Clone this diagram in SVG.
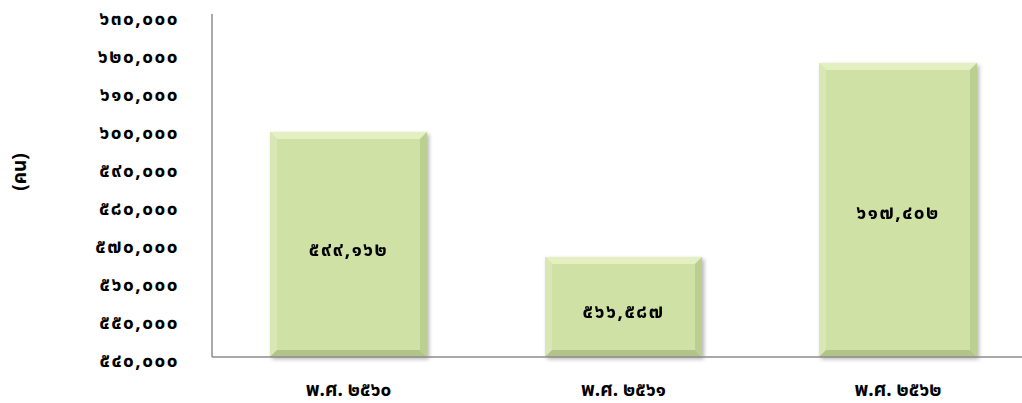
<svg xmlns="http://www.w3.org/2000/svg" width="1022" height="403" viewBox="0 0 1022 403">
<style>
.t{font-family:"Noto Sans Thai","Noto Sans","DejaVu Sans",sans-serif;font-weight:bold;font-size:19px;letter-spacing:1.5px;fill:#000}
.c{letter-spacing:0}
.ax{stroke:#8c8c8c;stroke-width:1.5;fill:none}
.face{fill:#d0e1a5}
.bt{fill:#e4efc2}
.bl{fill:#d8e7b3}
.br{fill:#bccf92}
.bb{fill:#b2c489}
</style>
<defs>
<filter id="sh" x="-10%" y="-10%" width="130%" height="130%">
<feGaussianBlur in="SourceAlpha" stdDeviation="2"/>
<feOffset dx="2" dy="2"/>
<feComponentTransfer><feFuncA type="linear" slope="0.3"/></feComponentTransfer>
<feMerge><feMergeNode/><feMergeNode in="SourceGraphic"/></feMerge>
</filter>
</defs>
<rect width="1022" height="403" fill="#fff"/>
<g id="y-axis-labels" class="t" text-anchor="end">
<text x="179" y="25">๖๓๐,๐๐๐</text>
<text x="179" y="63">๖๒๐,๐๐๐</text>
<text x="179" y="101">๖๑๐,๐๐๐</text>
<text x="179" y="139">๖๐๐,๐๐๐</text>
<text x="179" y="177">๕๙๐,๐๐๐</text>
<text x="179" y="215">๕๘๐,๐๐๐</text>
<text x="179" y="253">๕๗๐,๐๐๐</text>
<text x="179" y="291">๕๖๐,๐๐๐</text>
<text x="179" y="329">๕๕๐,๐๐๐</text>
<text x="179" y="367">๕๔๐,๐๐๐</text>
</g>
<text id="y-title" class="t c" text-anchor="middle" transform="translate(26,172) rotate(-90)">(คน)</text>
<g id="bar-2560" filter="url(#sh)">
<rect class="face" x="270" y="132" width="157" height="225"/>
<polygon class="bt" points="270,132 427,132 420,139 277,139"/>
<polygon class="bl" points="270,132 277,139 277,350 270,357"/>
<polygon class="br" points="427,132 427,357 420,350 420,139"/>
<polygon class="bb" points="270,357 277,350 420,350 427,357"/>
<text class="t" x="348.5" y="256" text-anchor="middle">๕๙๙,๑๖๒</text>
</g>
<g id="bar-2561" filter="url(#sh)">
<rect class="face" x="545" y="257" width="157" height="100"/>
<polygon class="bt" points="545,257 702,257 695,264 552,264"/>
<polygon class="bl" points="545,257 552,264 552,350 545,357"/>
<polygon class="br" points="702,257 702,357 695,350 695,264"/>
<polygon class="bb" points="545,357 552,350 695,350 702,357"/>
<text class="t" x="623.5" y="318" text-anchor="middle">๕๖๖,๕๘๗</text>
</g>
<g id="bar-2562" filter="url(#sh)">
<rect class="face" x="819" y="63" width="158" height="294"/>
<polygon class="bt" points="819,63 977,63 970,70 826,70"/>
<polygon class="bl" points="819,63 826,70 826,350 819,357"/>
<polygon class="br" points="977,63 977,357 970,350 970,70"/>
<polygon class="bb" points="819,357 826,350 970,350 977,357"/>
<text class="t" x="898" y="219" text-anchor="middle">๖๑๗,๔๐๒</text>
</g>
<g id="axes">
<line class="ax" x1="212" y1="14" x2="212" y2="357"/>
<line class="ax" x1="212" y1="357" x2="1022" y2="357"/>
</g>
<g id="x-axis-labels" class="t c" text-anchor="middle">
<text x="348.5" y="396">พ.ศ. ๒๕๖๐</text>
<text x="623.5" y="396">พ.ศ. ๒๕๖๑</text>
<text x="898" y="396">พ.ศ. ๒๕๖๒</text>
</g>
</svg>
